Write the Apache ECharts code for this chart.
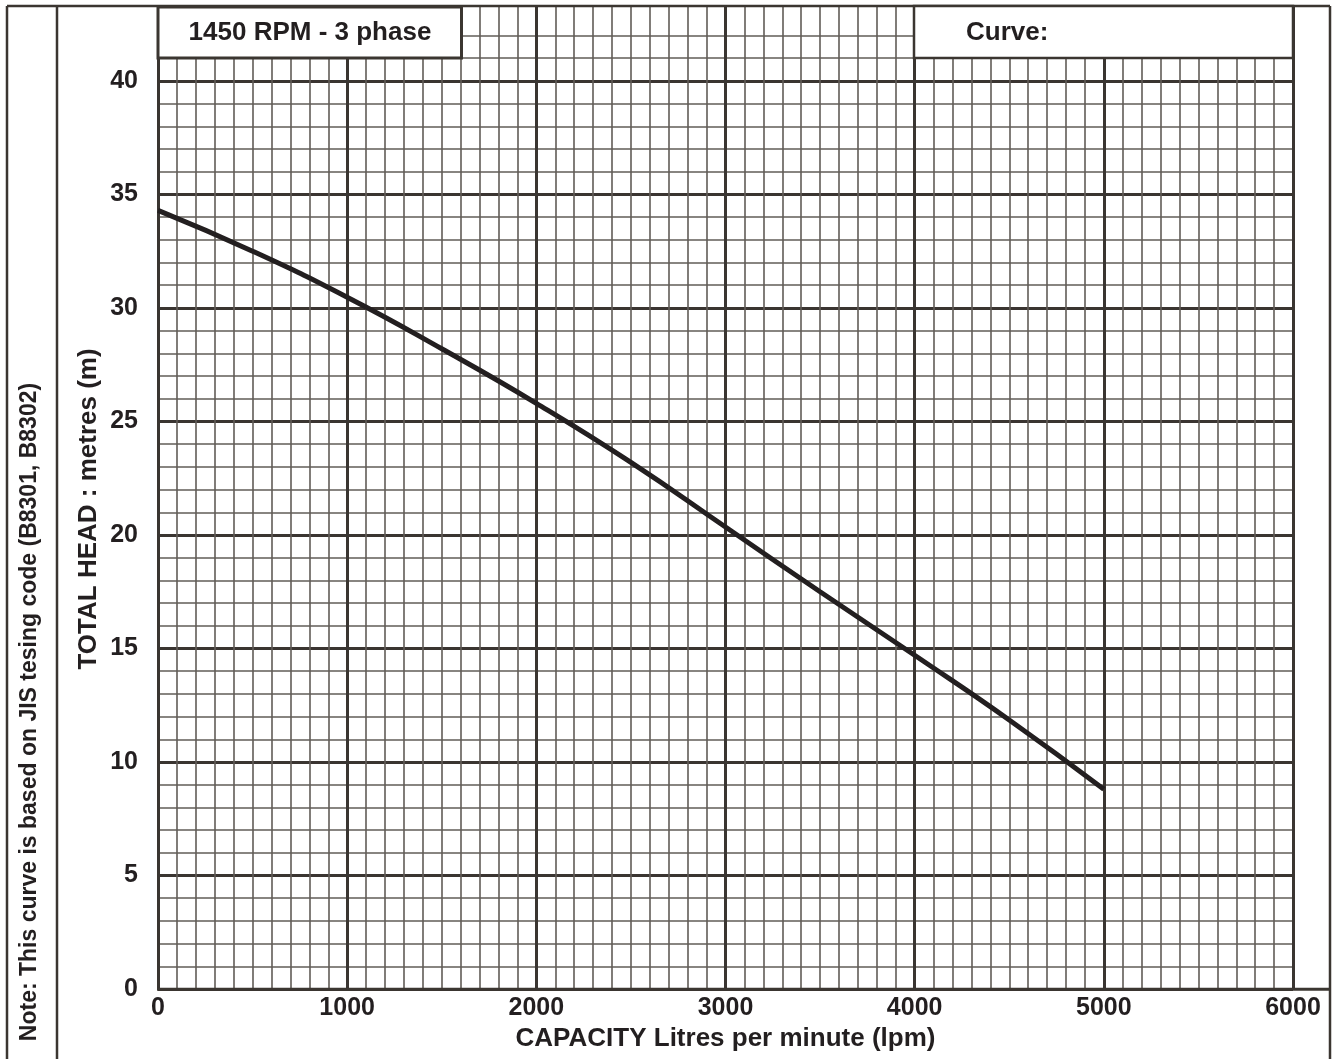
<!DOCTYPE html>
<html>
<head>
<meta charset="utf-8">
<script src="https://cdn.jsdelivr.net/npm/echarts@6/dist/echarts.min.js"></script>
<style>
html,body{margin:0;padding:0;background:#fff;}
#chart{width:1338px;height:1059px;}
</style>
</head>
<body>
<div id="chart"></div>
<script>
// ---- data ----
const capacity = [0, 500, 1000, 1500, 2000, 2500, 3000, 3500, 4000, 4500, 5000];
const head     = [34.3, 32.5, 30.47, 28.2, 25.8, 23.2, 20.35, 17.5, 14.7, 11.85, 8.8];
const xTickValues = [0, 1000, 2000, 3000, 4000, 5000, 6000];
const yTickValues = [0, 5, 10, 15, 20, 25, 30, 35, 40];
const titleText = '1450 RPM - 3 phase';
const curveText = 'Curve:';
const xName = 'CAPACITY Litres per minute (lpm)';
const yName = 'TOTAL HEAD : metres (m)';
const noteText = 'Note: This curve is based on JIS tesing code (B8301, B8302)';

const FONT = '"Liberation Sans", Arial, Helvetica, sans-serif';
const INK = '#231f20';
const MAJOR = '#3a3531';
const MINOR = '#615c57';
const FRAME = '#3b3631';
const YMAX = 43.3;

const minorYColors = Array.from({length: 45}, (_, i) => i >= 43 ? 'transparent' : MINOR);
const majorYColors = Array.from({length: 10}, (_, i) => i >= 9 ? 'transparent' : MAJOR);

const chart = echarts.init(document.getElementById('chart'), null, {renderer: 'canvas'});

const option = {
  backgroundColor: '#ffffff',
  animation: false,
  grid: {left: 158, right: 45, top: 6, bottom: 70, containLabel: false},
  xAxis: [
    {
      type: 'value', min: 0, max: 6000, interval: 100, position: 'top',
      axisLine: {show: false}, axisTick: {show: false}, axisLabel: {show: false},
      splitLine: {show: true, lineStyle: {color: MINOR, width: 1.6}}
    },
    {
      type: 'value', min: 0, max: 6000, interval: 1000, position: 'bottom',
      axisLine: {show: false}, axisTick: {show: false},
      axisLabel: {
        show: true, margin: 7, color: INK,
        fontFamily: FONT, fontWeight: 'bold', fontSize: 25,
        formatter: v => xTickValues.indexOf(v) >= 0 ? String(v) : ''
      },
      splitLine: {show: true, lineStyle: {color: MAJOR, width: 3}},
      name: xName, nameLocation: 'middle', nameGap: 32,
      nameTextStyle: {color: INK, fontFamily: FONT, fontWeight: 'bold', fontSize: 26}
    }
  ],
  yAxis: [
    {
      type: 'value', min: 0, max: YMAX, interval: 1, position: 'right',
      axisLine: {show: false}, axisTick: {show: false}, axisLabel: {show: false},
      splitLine: {show: true, lineStyle: {color: minorYColors, width: 1.6}}
    },
    {
      type: 'value', min: 0, max: YMAX, interval: 5, position: 'left',
      axisLine: {show: false}, axisTick: {show: false},
      axisLabel: {
        show: true, margin: 20, color: INK,
        fontFamily: FONT, fontWeight: 'bold', fontSize: 25,
        formatter: v => yTickValues.indexOf(v) >= 0 ? String(v) : ''
      },
      splitLine: {show: true, lineStyle: {color: majorYColors, width: 3}}
    }
  ],
  series: [
    {
      type: 'line', xAxisIndex: 1, yAxisIndex: 1,
      data: capacity.map((c, i) => [c, head[i]]),
      smooth: 0.5, showSymbol: false, symbol: 'none',
      lineStyle: {color: INK, width: 5, cap: 'butt'},
      z: 5
    }
  ],
  graphic: [
    // outer frame
    {type: 'line', z: 100, shape: {x1: 7, y1: 6, x2: 1330, y2: 6}, style: {stroke: FRAME, lineWidth: 2.5}},
    {type: 'line', z: 100, shape: {x1: 7, y1: 6, x2: 7, y2: 1059}, style: {stroke: FRAME, lineWidth: 2.5}},
    {type: 'line', z: 100, shape: {x1: 57, y1: 6, x2: 57, y2: 1059}, style: {stroke: FRAME, lineWidth: 2.5}},
    {type: 'line', z: 100, shape: {x1: 1330, y1: 6, x2: 1330, y2: 1059}, style: {stroke: FRAME, lineWidth: 2.5}},
    // bottom axis line extended to frame
    {type: 'line', z: 100, shape: {x1: 157, y1: 989.3, x2: 1330, y2: 989.3}, style: {stroke: FRAME, lineWidth: 3}},
    // title box
    {type: 'rect', z: 110, shape: {x: 158, y: 7, width: 303.5, height: 51}, style: {fill: '#ffffff', stroke: FRAME, lineWidth: 3}},
    {type: 'text', z: 111, x: 310, y: 33, style: {text: titleText, font: 'bold 26px ' + FONT, fill: INK, align: 'center', verticalAlign: 'middle'}},
    // curve box
    {type: 'rect', z: 110, shape: {x: 914, y: 6, width: 379, height: 52}, style: {fill: '#ffffff', stroke: FRAME, lineWidth: 2.5}},
    {type: 'text', z: 111, x: 966, y: 33, style: {text: curveText, font: 'bold 26px ' + FONT, fill: INK, align: 'left', verticalAlign: 'middle'}},
    // y axis name
    {type: 'text', z: 111, x: 89, y: 509, rotation: Math.PI / 2, style: {text: yName, font: 'bold 26px ' + FONT, fill: INK, align: 'center', verticalAlign: 'middle'}},
    // note
    {type: 'text', z: 111, x: 30, y: 712, rotation: Math.PI / 2, style: {text: noteText, font: 'bold 23px ' + FONT, fill: INK, align: 'center', verticalAlign: 'middle'}}
  ]
};
chart.setOption(option);
</script>
</body>
</html>
